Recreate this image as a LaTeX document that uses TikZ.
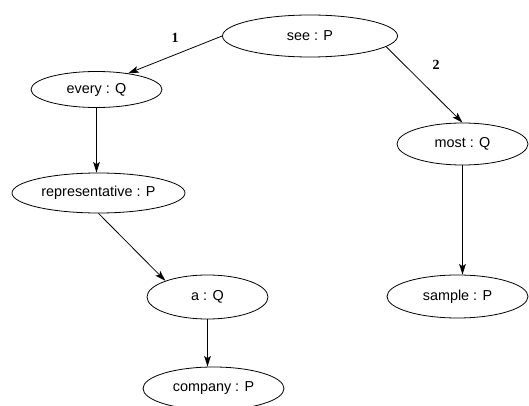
\documentclass[tikz,border=0pt]{standalone}
\usepackage{fontspec}
\setmainfont{Liberation Sans}
\newfontfamily\labelfont{Liberation Serif}
\usetikzlibrary{shapes.geometric,arrows.meta}
\begin{document}
\begin{tikzpicture}[x=0.75pt,y=-0.75pt,
  ell/.style={draw, ellipse, inner sep=0pt, line width=0.6pt, font=\fontsize{10.8}{12}\selectfont},
  arr/.style={draw, line width=0.6pt, -{Stealth[length=8pt,width=5pt,inset=1.8pt]}},
  elabel/.style={font=\labelfont\bfseries\fontsize{10.5}{12}\selectfont}]
\useasboundingbox (0,0) rectangle (529,406);
\clip (0,0) rectangle (529,406);
\node[ell, minimum width=131.25pt, minimum height=31.5pt] (see) at (310,36) {see : P};
\node[ell, minimum width=98.25pt, minimum height=27pt] (every) at (96.5,89.5) {every : Q};
\node[ell, minimum width=129.75pt, minimum height=30pt] (rep) at (98.5,193) {representative : P};
\node[ell, minimum width=90.75pt, minimum height=33pt] (a) at (207.5,297) {a : Q};
\node[ell, minimum width=105.75pt, minimum height=32.25pt] (company) at (213.5,388.5) {company : P};
\node[ell, minimum width=98.25pt, minimum height=31.5pt] (most) at (462.5,144) {most : Q};
\node[ell, minimum width=105.75pt, minimum height=32.25pt] (sample) at (457.5,296.5) {sample : P};
\draw[arr] (see.west) -- (every.27);
\draw[arr] (see.-8) -- (most.north);
\draw[arr] (every.south) -- (every.south |- rep.north);
\draw[arr] (rep.south) -- (a.159);
\draw[arr] (a.south) -- (a.south |- company.north);
\draw[arr] (most.south) -- (most.south |- sample.north);
\node[elabel] (l1) at (175,38) {1};
\node[elabel] (l2) at (436,65) {2};
\end{tikzpicture}
\end{document}
